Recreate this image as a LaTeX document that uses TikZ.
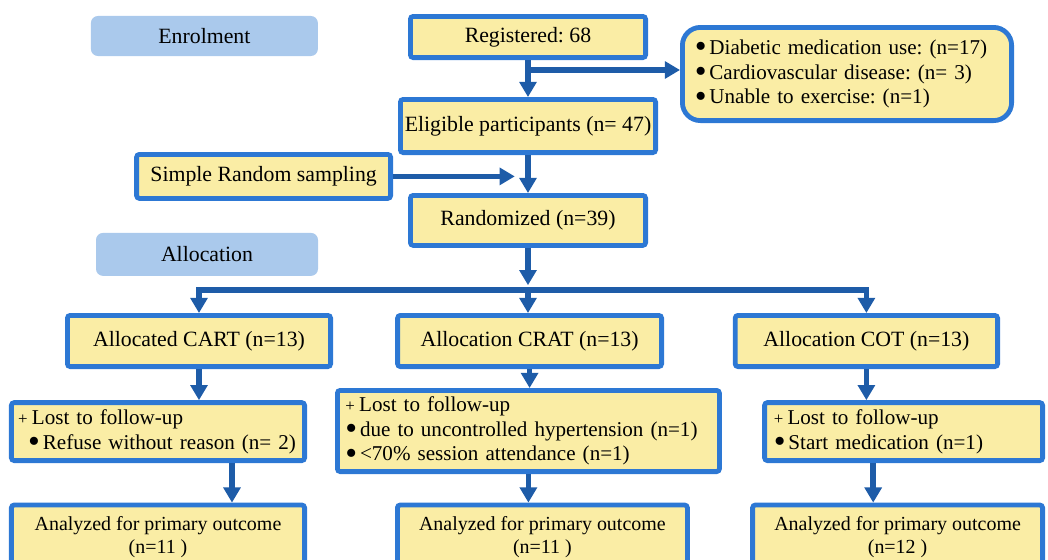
\documentclass[tikz,border=0pt]{standalone}
\usepackage{fontspec}
\setmainfont{Liberation Serif}
\usepackage{graphicx}
\usetikzlibrary{arrows.meta}

\definecolor{boxfill}{RGB}{250,237,165}
\definecolor{boxline}{RGB}{45,120,212}
\definecolor{arrline}{RGB}{30,92,168}
\definecolor{stagefill}{RGB}{170,201,236}

\newcommand{\bul}{\smash{\raisebox{-0.17em}{\scalebox{1.6}{\textbullet}}}\hspace{2pt}}
\newcommand{\lostmark}{{\fontsize{12}{12}\selectfont +}\hspace{3pt}}
\frenchspacing

\begin{document}
\begin{tikzpicture}[
  stagebox/.style={rectangle, rounded corners=5pt, fill=stagefill,
    minimum width=5.6cm, minimum height=1.05cm, font=\fontsize{15.5}{18}\selectfont},
  flowbox/.style={rectangle, draw=boxline, line width=0.12cm, rounded corners=2pt,
    fill=boxfill, align=center, inner sep=0pt, font=\fontsize{15.5}{18}\selectfont},
  listbox/.style={flowbox, align=left, font=\fontsize{15}{17.6}\selectfont},
  outbox/.style={flowbox, font=\fontsize{14.2}{16.5}\selectfont},
  arr/.style={-{Triangle[width=0.42cm,length=0.38cm]}, line width=0.14cm, arrline}
]
\useasboundingbox (0,0) rectangle (26.2,-14);
\clip (0,0) rectangle (26.2,-14);

% Enrolment
\node[stagebox, minimum width=5.675cm, minimum height=1.0cm] (enrol) at (5.11,-0.9) {Enrolment};
\node[flowbox, minimum width=5.88cm, minimum height=1.03cm] (reg) at (13.2,-0.925) {Registered: 68};
\node[listbox, rounded corners=0.45cm, text width=7.61cm, inner xsep=0.31cm,
  minimum height=2.33cm] (excl) at (21.175,-1.85) {\bul Diabetic medication use: (n=17)\\
  \bul Cardiovascular disease: (n= 3)\\ \bul Unable to exercise: (n=1)};
\node[flowbox, minimum width=6.38cm, minimum height=1.33cm] (elig) at (13.2,-3.15) {Eligible participants (n= 47)};
\node[flowbox, minimum width=6.35cm, minimum height=1.1cm] (simple) at (6.59,-4.41) {Simple Random sampling};
\node[flowbox, minimum width=5.88cm, minimum height=1.25cm] (rand) at (13.2,-5.51) {Randomized (n=39)};

\draw[arr] (reg) -- (elig);
\draw[arr] ([yshift=0.1cm]reg.south |- excl.west) -- ([yshift=0.1cm]excl.west);
\draw[arr] (elig) -- (rand);
\coordinate (join) at (simple.east -| elig.south);
\draw[arr] (simple.east) -- ([xshift=-0.33cm]join);

% Allocation
\node[stagebox, minimum width=5.55cm, minimum height=1.075cm] (alloc) at (5.175,-6.36) {Allocation};
\node[flowbox, minimum width=6.58cm, minimum height=1.28cm] (cart) at (4.975,-8.525) {Allocated CART (n=13)};
\node[flowbox, minimum width=6.6cm, minimum height=1.28cm] (crat) at (13.24,-8.525) {Allocation CRAT (n=13)};
\node[flowbox, minimum width=6.56cm, minimum height=1.28cm] (cot) at (21.66,-8.525) {Allocation COT (n=13)};

\coordinate (split) at (13.2,-7.25);
\draw[arr] (rand) -- ([yshift=0.12cm]split);
\draw[arr] (split) -| (cart.north);
\draw[arr] (split) -| (cot.north);
\draw[arr] (split) -- (split |- crat.north);

% Follow-up
\node[listbox, text width=6.99cm, inner xsep=0.17cm, minimum height=1.45cm] (lost1) at (3.95,-10.79)
  {\lostmark Lost to follow-up\\ \hspace*{0.25cm}\bul Refuse without reason (n= 2)};
\node[listbox, text width=9.15cm, inner xsep=0.2cm, minimum height=2.03cm] (lost2) at (13.21,-10.775)
  {\lostmark Lost to follow-up\\ \bul due to uncontrolled hypertension (n=1)\\ \bul <70\% session attendance (n=1)};
\node[listbox, text width=6.49cm, inner xsep=0.23cm, minimum height=1.45cm] (lost3) at (22.59,-10.79)
  {\lostmark Lost to follow-up\\ \bul Start medication (n=1)};

\draw[arr] (cart) -- (cart |- lost1.north);
\draw[arr] (crat) -- (crat |- lost2.north);
\draw[arr] (cot) -- (cot |- lost3.north);

% Analysis
\node[outbox, minimum width=7.33cm, minimum height=1.6cm] (an1) at (3.95,-13.425) {Analyzed for primary outcome\\(n=11 )};
\node[outbox, minimum width=7.25cm, minimum height=1.6cm] (an2) at (13.56,-13.425) {Analyzed for primary outcome\\(n=11 )};
\node[outbox, minimum width=7.25cm, minimum height=1.6cm] (an3) at (22.44,-13.425) {Analyzed for primary outcome\\(n=12 )};

\draw[arr] ([xshift=1.85cm]lost1.south) -- ([xshift=1.85cm]lost1.south |- an1.north);
\draw[arr] (lost2) -- (lost2 |- an2.north);
\draw[arr] ([xshift=-0.76cm]lost3.south) -- ([xshift=-0.76cm]lost3.south |- an3.north);

\end{tikzpicture}
\end{document}
